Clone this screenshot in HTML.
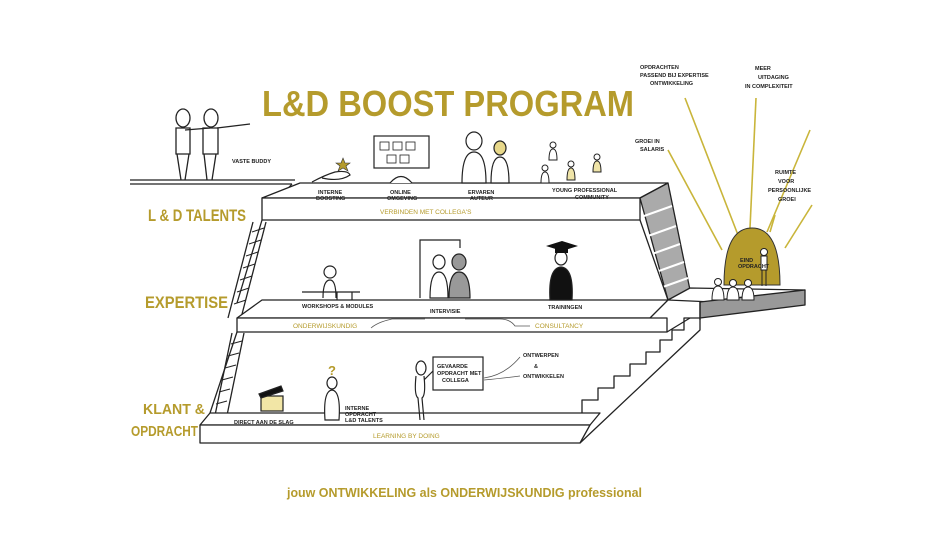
<!DOCTYPE html>
<html><head><meta charset="utf-8"><style>
html,body{margin:0;padding:0;background:#fff;}
svg{display:block;}
.g{fill:#b59b2c;font-family:"Liberation Sans",sans-serif;font-weight:bold;}
.s{fill:#222;font-family:"Liberation Sans",sans-serif;font-size:5.5px;font-weight:bold;}
.gs{fill:#b59b2c;font-family:"Liberation Sans",sans-serif;font-size:6.5px;}
</style></head><body>
<svg width="932" height="560" viewBox="0 0 932 560" xmlns="http://www.w3.org/2000/svg">
<rect width="932" height="560" fill="#fff"/>
<g stroke="#222" stroke-width="1.3" fill="none" stroke-linejoin="round">
<line x1="130" y1="180" x2="295" y2="180"/><line x1="130" y1="184" x2="292" y2="184"/>
<polyline points="292,184 282,195 300,190 262,198"/>
<polygon points="262,198 300,183 668,183 640,198" fill="#fff"/>
<rect x="262" y="198" width="378" height="22" fill="#fff"/>
<polygon points="640,198 668,183 690,290 668,300" fill="#aaa"/>
<g stroke="#fff" stroke-width="2"><line x1="644" y1="216" x2="672" y2="206"/><line x1="648" y1="236" x2="676" y2="226"/><line x1="652" y1="254" x2="680" y2="244"/><line x1="656" y1="272" x2="684" y2="262"/><line x1="660" y1="288" x2="688" y2="278"/></g>
<polyline points="262,220 237,303"/><polyline points="640,220 668,300"/>
<line x1="253" y1="222" x2="228" y2="318"/><line x1="266" y1="222" x2="241" y2="318"/>
<g stroke-width="1"><line x1="252" y1="232" x2="264" y2="228"/><line x1="249" y1="244" x2="261" y2="240"/><line x1="246" y1="256" x2="258" y2="252"/><line x1="243" y1="268" x2="255" y2="264"/><line x1="240" y1="280" x2="252" y2="276"/><line x1="237" y1="292" x2="249" y2="288"/><line x1="234" y1="304" x2="246" y2="300"/></g>
<polygon points="237,318 262,300 668,300 650,318" fill="#fff"/>
<rect x="237" y="318" width="430" height="14" fill="#fff"/>
<polygon points="668,300 690,288 805,290 780,305" fill="#fff"/>
<polygon points="700,302 805,290 805,305 700,318" fill="#999"/>
<line x1="700" y1="302" x2="700" y2="320"/>
<line x1="237" y1="332" x2="210" y2="413"/><line x1="667" y1="332" x2="690" y2="318"/>
<line x1="232" y1="333" x2="213" y2="425"/><line x1="244" y1="333" x2="225" y2="425"/>
<g stroke-width="1"><line x1="231" y1="344" x2="242" y2="341"/><line x1="228" y1="356" x2="239" y2="353"/><line x1="225" y1="368" x2="236" y2="365"/><line x1="222" y1="380" x2="233" y2="377"/><line x1="219" y1="392" x2="230" y2="389"/><line x1="216" y1="404" x2="227" y2="401"/></g>
<polyline points="582,413 582,400 598,400 598,388 614,388 614,376 630,376 630,364 646,364 646,352 660,352 660,340 672,340 672,330 684,330 684,318 700,318"/>
<polyline points="580,443 700,330 700,318"/>
<polygon points="200,425 210,413 600,413 590,425" fill="#fff"/>
<polygon points="200,425 590,425 580,443 200,443" fill="#fff"/>
</g>
<g stroke="#c9b53a" stroke-width="1.6">
<line x1="668" y1="150" x2="722" y2="250"/><line x1="685" y1="98" x2="738" y2="235"/><line x1="756" y1="98" x2="750" y2="228"/><line x1="810" y1="130" x2="767" y2="232"/><line x1="812" y1="205" x2="785" y2="248"/><line x1="775" y1="215" x2="770" y2="232"/>
</g>
<path d="M724,285 Q724,228 752,228 Q780,228 780,285 Z" fill="#b59b2c" stroke="#333" stroke-width="1"/>
<g fill="#fff" stroke="#222" stroke-width="1">
<circle cx="718" cy="282" r="3.5"/><path d="M712,300 Q712,286 718,286 Q724,286 724,300Z"/>
<circle cx="733" cy="283" r="3.5"/><path d="M727,300 Q727,287 733,287 Q739,287 739,300Z"/>
<circle cx="748" cy="283" r="3.5"/><path d="M742,300 Q742,287 748,287 Q754,287 754,300Z"/>
<circle cx="764" cy="252" r="3.5"/><rect x="761" y="256" width="6" height="14"/><line x1="762" y1="270" x2="762" y2="286"/><line x1="766" y1="270" x2="766" y2="286"/>
</g>
<text x="740" y="262" class="s" font-size="4.5">EIND</text><text x="738" y="268" class="s" font-size="4.5">OPDRACHT</text>
<g fill="#fff" stroke="#222" stroke-width="1.3">
<ellipse cx="183" cy="118" rx="7" ry="9"/><ellipse cx="211" cy="118" rx="7" ry="9"/>
<path d="M176,128 h14 v26 h-14z"/><path d="M203,128 h15 v26 h-15z"/>
<path d="M177,154 L181,180 M189,154 L185,180 M204,154 L207,180 M216,154 L212,180"/>
<path d="M185,130 L210,128 M217,128 L250,124" />
</g>
<text x="232" y="163" class="s">VASTE BUDDY</text>
<g fill="#fff" stroke="#222" stroke-width="1.2">
<rect x="374" y="136" width="55" height="32"/>
<g stroke-width="0.8"><rect x="380" y="142" width="9" height="8"/><rect x="393" y="142" width="9" height="8"/><rect x="406" y="142" width="9" height="8"/><rect x="387" y="155" width="9" height="8"/><rect x="400" y="155" width="9" height="8"/></g>
<path d="M390,183 Q401,170 412,183"/>
<path d="M312,182 Q325,175 335,172 Q348,170 350,175 Q340,182 322,178"/>
<ellipse cx="474" cy="141" rx="8" ry="9"/><path d="M462,183 Q462,152 474,152 Q486,152 486,183Z"/>
<ellipse cx="500" cy="148" rx="6" ry="7" fill="#e8d88a"/><path d="M491,183 Q491,157 500,157 Q509,157 509,183Z"/>
<g stroke-width="1"><circle cx="553" cy="145" r="3"/><path d="M549,160 Q549,149 553,149 Q557,149 557,160Z"/><circle cx="545" cy="168" r="3"/><path d="M541,183 Q541,172 545,172 Q549,172 549,183Z"/><circle cx="571" cy="164" r="3"/><path d="M567,180 Q567,168 571,168 Q575,168 575,180Z" fill="#efe4a8"/><circle cx="597" cy="157" r="3"/><path d="M593,172 Q593,161 597,161 Q601,161 601,172Z" fill="#efe4a8"/></g>
</g>
<polygon points="343,158 345,163 350,163 346,166 348,171 343,168 338,171 340,166 336,163 341,163" fill="#b59b2c" stroke="#333" stroke-width="0.6"/>
<text x="318" y="194" class="s">INTERNE</text><text x="316" y="200" class="s">BOOSTING</text>
<text x="390" y="194" class="s">ONLINE</text><text x="387" y="200" class="s">OMGEVING</text>
<text x="468" y="194" class="s">ERVAREN</text><text x="470" y="200" class="s">AUTEUR</text>
<text x="552" y="192" class="s">YOUNG PROFESSIONAL</text><text x="575" y="199" class="s">COMMUNITY</text>
<text x="380" y="214" class="gs">VERBINDEN MET COLLEGA'S</text>
<g fill="#fff" stroke="#222" stroke-width="1.2">
<circle cx="330" cy="272" r="6"/><path d="M323,298 Q323,280 330,280 Q336,280 336,298"/><path d="M302,292 H360 M337,292 V300 M352,292 V300"/>
<path d="M420,298 V240 H460 V248"/>
<ellipse cx="439" cy="262" rx="6" ry="7"/><path d="M430,298 Q430,272 439,272 Q448,272 448,298Z"/>
<ellipse cx="459" cy="262" rx="7" ry="8" fill="#999"/><path d="M449,298 Q449,272 459,272 Q470,272 470,298Z" fill="#999"/>
<ellipse cx="561" cy="258" rx="6" ry="7"/><path d="M550,300 Q548,268 561,267 Q574,268 572,300Z" fill="#111"/>
</g>
<path d="M546,246 L562,241 L578,246 L562,251Z" fill="#111"/><rect x="555" y="248" width="13" height="5" fill="#111"/>
<text x="302" y="308" class="s">WORKSHOPS &amp; MODULES</text>
<text x="430" y="313" class="s">INTERVISIE</text>
<text x="548" y="309" class="s">TRAININGEN</text>
<g stroke="#555" stroke-width="0.8" fill="none"><path d="M371,328 Q378,322 392,319 H425"/><path d="M465,319 H500 Q510,319 515,326 H530"/></g>
<text x="293" y="328" class="gs">ONDERWIJSKUNDIG</text>
<text x="535" y="328" class="gs">CONSULTANCY</text>
<g fill="#fff" stroke="#222" stroke-width="1.2">
<rect x="261" y="396" width="22" height="15" fill="#f2e6a6"/>
<path d="M259,394 L281,386 L283,391 L261,398Z" fill="#111"/>
<ellipse cx="332" cy="383" rx="5" ry="6"/><path d="M325,420 Q323,391 332,390 Q341,391 339,420Z"/>
<ellipse cx="421" cy="368" rx="5" ry="7"/><path d="M416,376 Q414,395 418,398 L420,420 M424,376 Q426,395 422,398 L424,420 M424,380 L434,370"/>
<rect x="433" y="357" width="50" height="33"/>
</g>
<text x="328" y="375" fill="#b59b2c" font-family="Liberation Sans" font-weight="bold" font-size="13">?</text>
<text x="437" y="368" class="s" font-size="4.5">GEVAARDE</text><text x="437" y="375" class="s" font-size="4.5">OPDRACHT MET</text><text x="442" y="382" class="s" font-size="4.5">COLLEGA</text>
<g stroke="#555" stroke-width="0.8" fill="none"><path d="M484,378 Q505,375 520,357"/><path d="M484,380 Q505,378 520,376"/></g>
<text x="523" y="357" class="s">ONTWERPEN</text><text x="534" y="368" class="s">&amp;</text><text x="523" y="378" class="s">ONTWIKKELEN</text>
<text x="345" y="410" class="s" font-size="4.5">INTERNE</text><text x="345" y="416" class="s" font-size="4.5">OPDRACHT</text><text x="345" y="422" class="s" font-size="4.5">L&amp;D TALENTS</text>
<text x="234" y="424" class="s">DIRECT AAN DE SLAG</text>
<text x="373" y="438" class="gs">LEARNING BY DOING</text>
<text x="640" y="69" class="s">OPDRACHTEN</text><text x="640" y="77" class="s">PASSEND BIJ EXPERTISE</text><text x="650" y="85" class="s">ONTWIKKELING</text>
<text x="755" y="70" class="s">MEER</text><text x="758" y="79" class="s">UITDAGING</text><text x="745" y="88" class="s">IN COMPLEXITEIT</text>
<text x="635" y="143" class="s">GROEI IN</text><text x="640" y="151" class="s">SALARIS</text>
<text x="775" y="174" class="s">RUIMTE</text><text x="778" y="183" class="s">VOOR</text><text x="768" y="192" class="s">PERSOONLIJKE</text><text x="778" y="201" class="s">GROEI</text>
<text x="262" y="116" class="g" font-size="36" textLength="372" lengthAdjust="spacingAndGlyphs">L&amp;D BOOST PROGRAM</text>
<text x="148" y="221" class="g" font-size="17" textLength="98" lengthAdjust="spacingAndGlyphs">L &amp; D TALENTS</text>
<text x="145" y="308" class="g" font-size="17" textLength="83" lengthAdjust="spacingAndGlyphs">EXPERTISE</text>
<text x="143" y="414" class="g" font-size="15" textLength="62" lengthAdjust="spacingAndGlyphs">KLANT &amp;</text>
<text x="131" y="436" class="g" font-size="15" textLength="67" lengthAdjust="spacingAndGlyphs">OPDRACHT</text>
<text x="287" y="497" class="g" font-weight="normal" font-size="13" textLength="355" lengthAdjust="spacingAndGlyphs">jouw ONTWIKKELING als ONDERWIJSKUNDIG professional</text>
</svg>
</body></html>
